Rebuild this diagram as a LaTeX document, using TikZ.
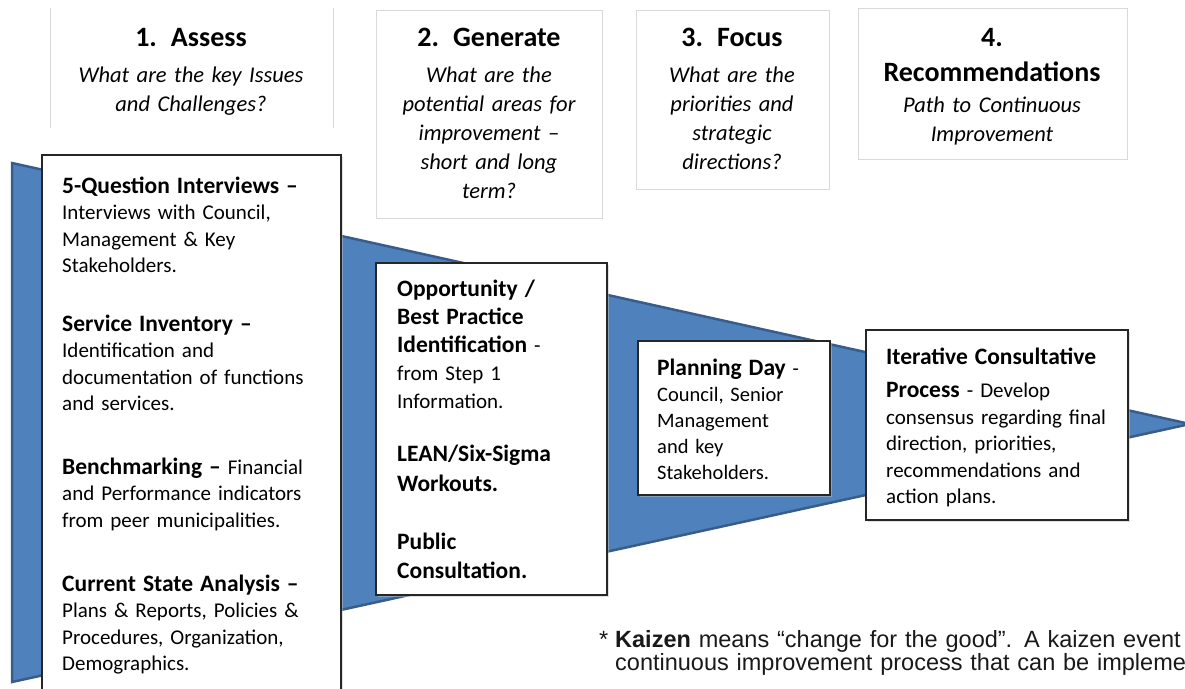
\documentclass[tikz,border=0pt]{standalone}
\usepackage{fontspec}
\setmainfont{Carlito}
\newfontfamily\notefont{Liberation Sans}
\usetikzlibrary{shadows}
\definecolor{funnelfill}{RGB}{79,129,189}
\definecolor{funneledge}{RGB}{56,93,138}
\definecolor{headline}{RGB}{217,217,217}
\definecolor{boxline}{RGB}{38,38,38}
\newcommand{\stephead}[1]{{\fontsize{23.5}{26.5}\selectfont\bfseries #1}}
\begin{document}
\begin{tikzpicture}[x=1pt,y=-1pt,
  header/.style={draw=headline, line width=1pt},
  stepbox/.style={draw=boxline, line width=1.8pt, fill=white, anchor=north west,
    inner sep=0pt, drop shadow={shadow xshift=2pt, shadow yshift=-2pt, fill=black!25}},
  ttl/.style={font=\fontsize{28}{35}\selectfont\bfseries, anchor=base, inner sep=0pt,
    align=center, text width=260pt},
  qst/.style={font=\fontsize{22.5}{29}\selectfont\itshape, anchor=base, inner sep=0pt,
    align=center, text width=260pt},
  body/.style={font=\fontsize{21}{26.5}\selectfont, anchor=base west, align=left,
    inner sep=0pt, text width=280pt},
  note/.style={font=\notefont\fontsize{23.5}{23}\selectfont, anchor=base west,
    align=left, inner sep=0pt, text width=900pt, text=black!90},
]
\useasboundingbox (0,0) rectangle (1185,688);
\clip (0,0) rectangle (1185,688);

% funnel
\coordinate (ftop) at (12,163);
\coordinate (ftip) at (1190,424);
\coordinate (fbot) at (12,682);
\path[fill=funnelfill, draw=funneledge, line width=2.5pt] (ftop) -- (ftip) -- (fbot) -- cycle;

% stage headers
\draw[header] (50,8) -- (50,128) (333,8) -- (333,128);
\draw[header] (376,10) rectangle (602,218);
\draw[header] (636,10) rectangle (829,189);
\draw[header] (858,8) rectangle (1127,159);

\node[ttl] (t1) at (191,46) {1. Assess};
\node[qst] (q1) at (191,82) {What are the key Issues\\ and Challenges?};
\node[ttl] (t2) at (489,46) {2. Generate};
\node[qst] (q2) at (489,82) {What are the\\ potential areas for\\ improvement –\\ short and long\\ term?};
\node[ttl] (t3) at (732,46) {3. Focus};
\node[qst] (q3) at (732,82) {What are the\\ priorities and\\ strategic\\ directions?};
\node[ttl] (t4) at (992,46) {4.\\ Recommendations};
\node[qst] (q4) at (992,112) {Path to Continuous\\ Improvement};

% step boxes
\node[stepbox, minimum width=299pt, minimum height=546pt] (boxA) at (41,154) {};
\node[stepbox, minimum width=231pt, minimum height=332pt] (boxB) at (375,262) {};
\node[stepbox, minimum width=192pt, minimum height=154pt] (boxC) at (637,340) {};
\node[stepbox, minimum width=262pt, minimum height=190pt] (boxD) at (865,329) {};

% step 1 content
\node[body] (a1) at (62,193) {\stephead{5-Question Interviews –}\\ Interviews with Council,\\ Management \& Key\\ Stakeholders.};
\node[body] (a2) at (62,331) {\stephead{Service Inventory –}\\ Identification and\\ documentation of functions\\ and services.};
\node[body] (a3) at (62,474) {\stephead{Benchmarking –} Financial\\ and Performance indicators\\ from peer municipalities.};
\node[body] (a4) at (62,591) {\stephead{Current State Analysis –}\\ Plans \& Reports, Policies \&\\ Procedures, Organization,\\ Demographics.};

% step 2 content
\node[body, font=\fontsize{21}{28}\selectfont] (b1) at (397,296) {\stephead{Opportunity /}\\ \stephead{Best Practice}\\ \stephead{Identification} -\\ from Step 1\\ Information.};
\node[body, font=\fontsize{23.5}{30}\selectfont\bfseries] (b2) at (397,461) {LEAN/Six-Sigma\\ Workouts.};
\node[body, font=\fontsize{23.5}{29}\selectfont\bfseries] (b3) at (397,549) {Public\\ Consultation.};

% step 3 content
\node[body, font=\fontsize{20.5}{26}\selectfont] (c1) at (657,375) {\stephead{Planning Day} -\\ Council, Senior\\ Management\\ and key\\ Stakeholders.};

% step 4 content
\node[body] (d1) at (886,364) {\stephead{Iterative Consultative}\\[7pt] \stephead{Process} - Develop\\ consensus regarding final\\ direction, priorities,\\ recommendations and\\ action plans.};

% footnote
\node[note] (star) at (599,647) {*};
\node[note] (kaizen) at (615,647) {\textbf{Kaizen} means “change for the good”. A kaizen event\\ continuous improvement process that can be implemented};
\end{tikzpicture}
\end{document}
